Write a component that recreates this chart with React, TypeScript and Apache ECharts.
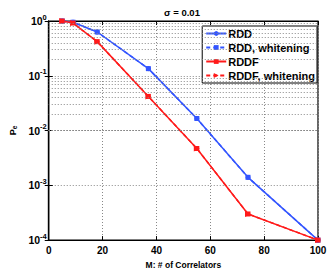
import React, { useEffect, useRef } from "react";
import * as echarts from "echarts";

const mValues = [5, 9, 18, 37, 55, 74, 100];
const rdd = [1.0, 0.95, 0.63, 0.135, 0.0166, 0.0014, 0.0001];
const rddWhitening = [1.0, 0.95, 0.63, 0.135, 0.0166, 0.0014, 0.0001];
const rddf = [1.0, 0.92, 0.42, 0.042, 0.0047, 0.0003, 0.0001];
const rddfWhitening = [1.0, 0.92, 0.42, 0.042, 0.0047, 0.0003, 0.0001];
const xTicks = [0, 20, 40, 60, 80, 100];
const minorY: number[] = [];
for (let e = -4; e < 0; e++) for (let k = 2; k <= 9; k++) minorY.push(k * Math.pow(10, e));

const BLUE = "#3355ff";
const RED = "#ff1a1a";
const FONT = "Liberation Sans, Arial, sans-serif";

export default function App() {
  const ref = useRef<HTMLDivElement>(null);
  useEffect(() => {
    const chart = echarts.init(ref.current!, null, { renderer: "svg" });
    const pair = (xs: number[], ys: number[]) => xs.map((x, i) => [x, ys[i]]);
    const grid = { left: 36.5, right: 14, top: 21, bottom: 29 };
    chart.setOption({
      animation: false,
      backgroundColor: "#fff",
      title: {
        text: "σ = 0.01",
        left: 177,
        top: 2,
        textAlign: "center",
        textStyle: { fontFamily: FONT, fontSize: 9.5, fontWeight: "bold", color: "#000" },
      },
      grid: { ...grid, show: true, borderColor: "#000", borderWidth: 1.2, backgroundColor: "#fff" },
      legend: {
        orient: "vertical",
        right: 15,
        top: 26,
        itemWidth: 20,
        itemHeight: 6,
        itemGap: 3,
        padding: [2, 2, 2, 3],
        backgroundColor: "#fff",
        borderColor: "#000",
        borderWidth: 1,
        borderRadius: 0,
        textStyle: { fontFamily: FONT, fontSize: 11, fontWeight: "bold", color: "#000", padding: [0, 0, 0, -3] },
        data: ["RDD", "RDD, whitening", "RDDF", "RDDF, whitening"],
      },
      xAxis: [
        {
          type: "value",
          min: 0,
          max: 100,
          interval: 20,
          name: "M: # of Correlators",
          nameLocation: "middle",
          nameGap: 19,
          nameTextStyle: { fontFamily: FONT, fontSize: 8.5, fontWeight: "bold", color: "#000" },
          axisLine: { show: true, lineStyle: { color: "#000", width: 1.2 } },
          axisTick: { show: true, inside: true, length: 4, lineStyle: { color: "#000" } },
          axisLabel: {
            fontFamily: FONT,
            fontSize: 10,
            fontWeight: "bold",
            color: "#000",
            margin: 5,
            customValues: xTicks,
          },
          splitLine: { show: true, lineStyle: { type: [1, 2], color: "#888", width: 1 } },
        },
        {
          type: "value",
          position: "top",
          min: 0,
          max: 100,
          interval: 20,
          axisLine: { show: true, lineStyle: { color: "#000", width: 1.2 } },
          axisTick: { show: true, inside: true, length: 4, lineStyle: { color: "#000" } },
          axisLabel: { show: false },
          splitLine: { show: false },
        },
      ],
      yAxis: [
        {
          type: "log",
          logBase: 10,
          min: 0.0001,
          max: 1,
          axisLine: { show: true, lineStyle: { color: "#000", width: 1.2 } },
          axisTick: { show: true, inside: true, length: 4, lineStyle: { color: "#000" } },
          axisLabel: {
            color: "#000",
            margin: 2,
            formatter: (v: number) => "{b|10}{s|" + Math.round(Math.log10(v)) + "}",
            rich: {
              b: { fontFamily: FONT, fontSize: 10.5, fontWeight: "bold", color: "#000" },
              s: { fontFamily: FONT, fontSize: 7.5, fontWeight: "bold", color: "#000", padding: [0, 0, 8, 0] },
            },
          },
          name: "{p|P}{e|e}",
          nameLocation: "middle",
          nameGap: 29,
          nameRotate: 90,
          nameTextStyle: {
            rich: {
              p: { fontFamily: FONT, fontSize: 9, fontWeight: "bold", color: "#000" },
              e: { fontFamily: FONT, fontSize: 6.5, fontWeight: "bold", color: "#000", padding: [0, 0, -3, 0] },
            },
          },
          splitLine: { show: true, lineStyle: { type: [1, 2], color: "#888", width: 1 } },
        },
        {
          type: "log",
          logBase: 10,
          min: 0.0001,
          max: 1,
          position: "right",
          axisLine: { show: true, lineStyle: { color: "#000", width: 1.2 } },
          axisTick: { show: true, inside: true, length: 4, lineStyle: { color: "#000" } },
          axisLabel: { show: false },
          splitLine: { show: false },
        },
      ],
      series: [
        {
          name: "minor",
          type: "line",
          data: [],
          silent: true,
          markLine: {
            silent: true,
            symbol: "none",
            label: { show: false },
            lineStyle: { type: [1, 2], color: "#888", width: 1 },
            data: minorY.map((v) => ({ yAxis: v })),
          },
        },
        {
          name: "RDD",
          type: "line",
          data: pair(mValues, rdd),
          symbol: "circle",
          symbolSize: 5,
          color: BLUE,
          lineStyle: { color: BLUE, width: 1.5 },
          itemStyle: { color: BLUE },
        },
        {
          name: "RDD, whitening",
          type: "line",
          data: pair(mValues, rddWhitening),
          symbol: "rect",
          symbolSize: 5,
          color: BLUE,
          lineStyle: { color: BLUE, width: 1.5, type: [4, 3] },
          itemStyle: { color: BLUE },
        },
        {
          name: "RDDF",
          type: "line",
          data: pair(mValues, rddf),
          symbol: "rect",
          symbolSize: 5,
          color: RED,
          lineStyle: { color: RED, width: 1.5 },
          itemStyle: { color: RED },
        },
        {
          name: "RDDF, whitening",
          type: "line",
          data: pair(mValues, rddfWhitening),
          symbol: "triangle",
          symbolRotate: -90,
          symbolSize: 6,
          color: RED,
          lineStyle: { color: RED, width: 1.5, type: [4, 3] },
          itemStyle: { color: RED },
        },
      ],
    });
    return () => chart.dispose();
  }, []);
  return <div ref={ref} style={{ width: 332, height: 274, position: "absolute", left: 0, top: 0 }} />;
}
